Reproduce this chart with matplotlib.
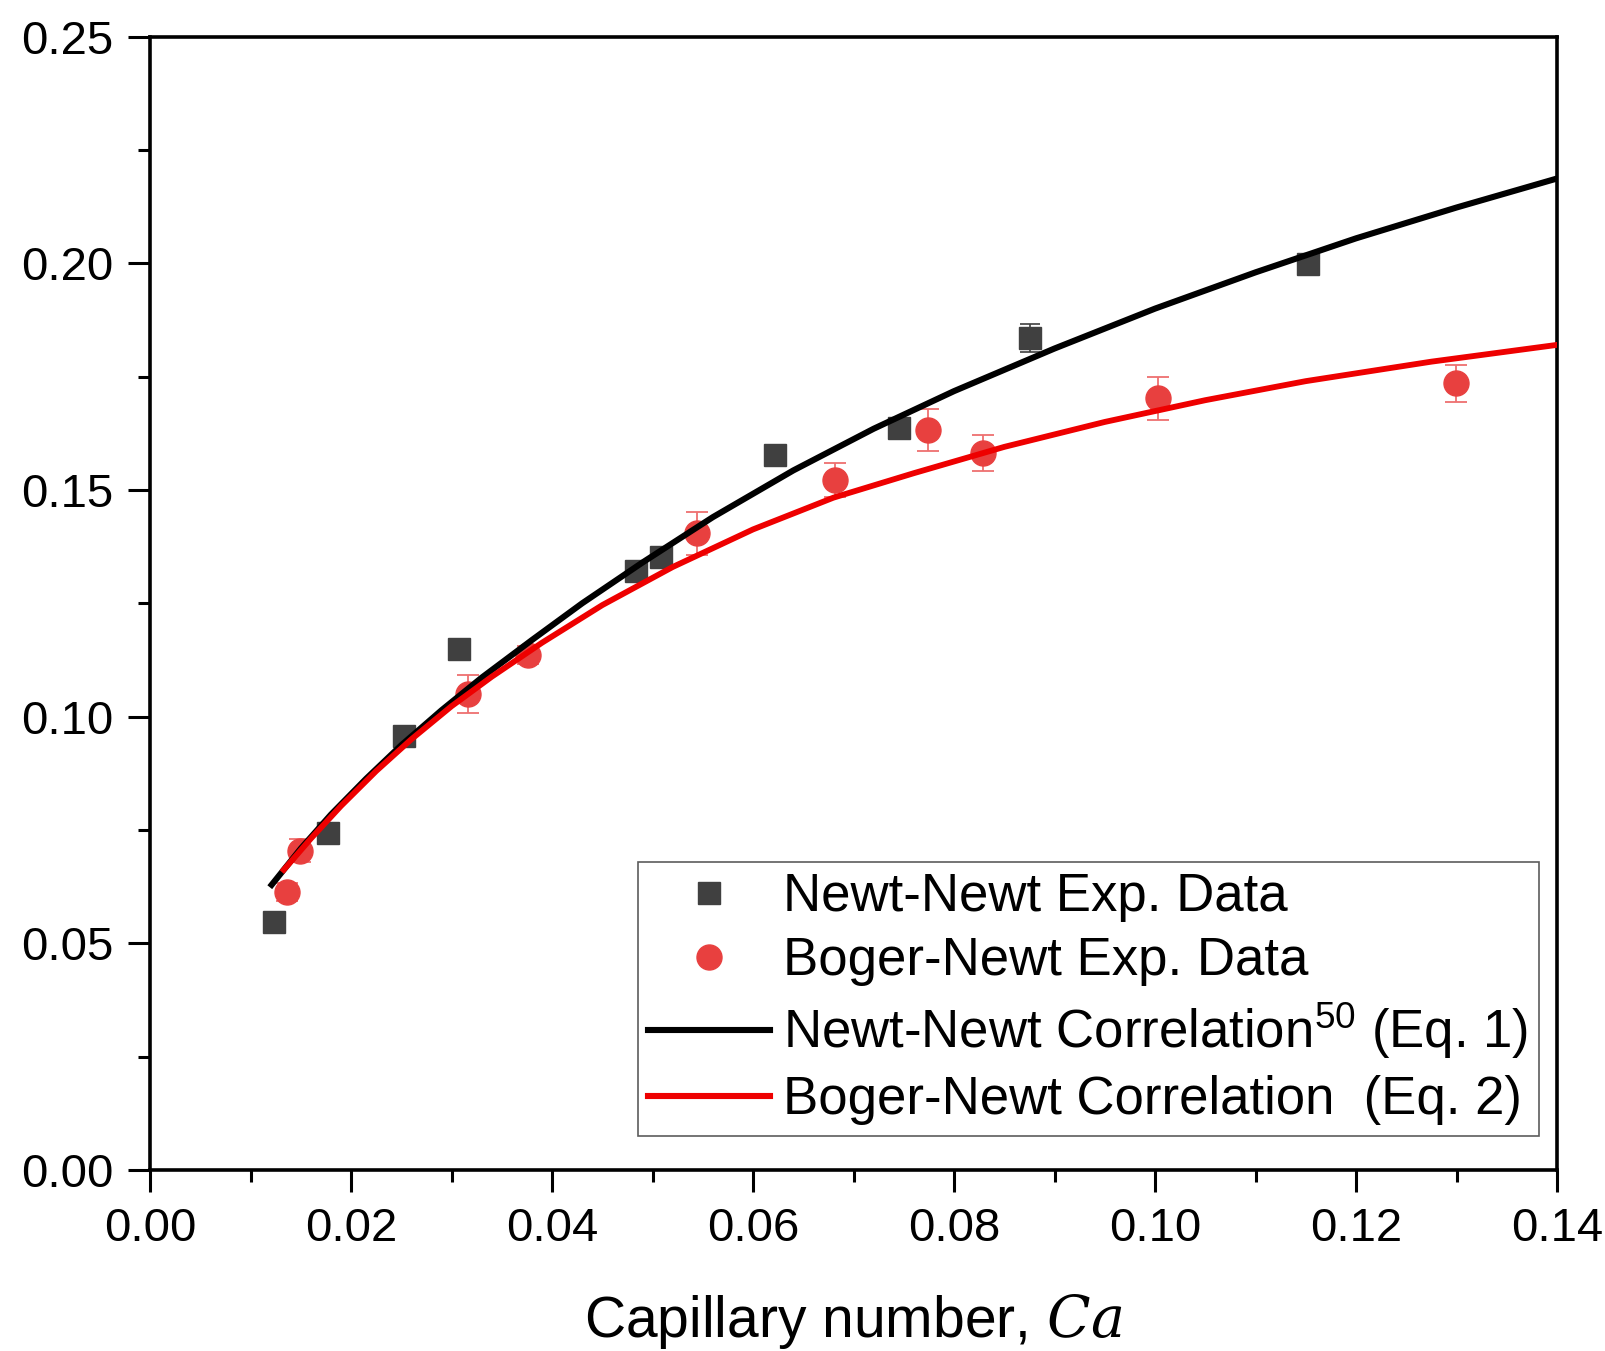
import numpy as np
import matplotlib.pyplot as plt
from matplotlib.lines import Line2D
from matplotlib.ticker import MultipleLocator

plt.rcParams['font.family'] = ['Liberation Sans', 'DejaVu Sans']
plt.rcParams['mathtext.fontset'] = 'custom'
plt.rcParams['mathtext.rm'] = 'Liberation Sans'
plt.rcParams['mathtext.it'] = 'DejaVu Serif:italic'
plt.rcParams['mathtext.bf'] = 'Liberation Sans:bold'

# experimental points
newt_ca = [0.0123, 0.0177, 0.0253, 0.0307, 0.0484, 0.0508, 0.0622, 0.0745, 0.0876, 0.1152]
newt_val = [0.0548, 0.0743, 0.0958, 0.1149, 0.1322, 0.1353, 0.1577, 0.1636, 0.1835, 0.1998]
newt_err = [0.001, 0.001, 0.001, 0.001, 0.002, 0.002, 0.002, 0.001, 0.003, 0.0015]

boger_ca = [0.0136, 0.0149, 0.0316, 0.0376, 0.0544, 0.0682, 0.0774, 0.0829, 0.1003, 0.1299]
boger_val = [0.0614, 0.0704, 0.1050, 0.1135, 0.1404, 0.1522, 0.1632, 0.1581, 0.1702, 0.1735]
boger_err = [0.002, 0.0025, 0.0042, 0.002, 0.0048, 0.0037, 0.0046, 0.0040, 0.0048, 0.0040]

# correlation curves
newt_curve_ca = [0.0121, 0.0150, 0.0180, 0.0215, 0.0250, 0.0290, 0.0330, 0.0380, 0.0430,
                 0.0490, 0.0560, 0.0640, 0.0720, 0.0800, 0.0900, 0.1000, 0.1100, 0.1200,
                 0.1300, 0.1400]
newt_curve_val = [0.0629, 0.0709, 0.0784, 0.0863, 0.0937, 0.1014, 0.1086, 0.1169, 0.1250,
                  0.1340, 0.1440, 0.1543, 0.1635, 0.1718, 0.1812, 0.1900, 0.1980, 0.2055,
                  0.2123, 0.2187]

boger_curve_ca = [0.0133, 0.0160, 0.0190, 0.0225, 0.0260, 0.0300, 0.0340, 0.0390, 0.0450,
                  0.0520, 0.0600, 0.0680, 0.0760, 0.0850, 0.0950, 0.1050, 0.1150, 0.1275,
                  0.1400]
boger_curve_val = [0.0662, 0.0731, 0.0803, 0.0880, 0.0950, 0.1023, 0.1088, 0.1163, 0.1246,
                   0.1330, 0.1413, 0.1483, 0.1537, 0.1595, 0.1650, 0.1698, 0.1740, 0.1783,
                   0.1820]

x_ticks = [0.00, 0.02, 0.04, 0.06, 0.08, 0.10, 0.12, 0.14]
y_ticks = [0.00, 0.05, 0.10, 0.15, 0.20, 0.25]

grey = '#404040'
red_pt = '#e8403f'
red_line = '#ee0000'

fig = plt.figure(figsize=(16.05, 13.51), dpi=100)
ax = fig.add_axes([0.0935, 0.134, 0.8766, 0.8389])

ax.errorbar(newt_ca, newt_val, yerr=newt_err, fmt='s', ms=16.5, color=grey,
            ecolor=grey, elinewidth=1.2, capsize=7.5, capthick=1.2, zorder=2)
ax.errorbar(boger_ca, boger_val, yerr=boger_err, fmt='o', ms=18, mfc=red_pt, mec=red_pt,
            ecolor='#ee7070', elinewidth=1.3, capsize=8, capthick=1.3, zorder=2)

ax.plot(newt_curve_ca, newt_curve_val, color='black', lw=4.4, zorder=3,
        solid_joinstyle='round')
ax.plot(boger_curve_ca, boger_curve_val, color=red_line, lw=4.2, zorder=3,
        solid_joinstyle='round')

ax.set_xlim(0, 0.14)
ax.set_ylim(0, 0.25)
ax.set_xticks(x_ticks)
ax.set_xticklabels(['%.2f' % t for t in x_ticks])
ax.set_yticks(y_ticks)
ax.set_yticklabels(['%.2f' % t for t in y_ticks])
ax.xaxis.set_minor_locator(MultipleLocator(0.01))
ax.yaxis.set_minor_locator(MultipleLocator(0.025))
ax.tick_params(which='major', direction='out', length=15.5, width=2.2, labelsize=34)
ax.tick_params(axis='x', which='major', pad=11)
ax.tick_params(axis='y', which='major', pad=11)
ax.tick_params(which='minor', direction='out', length=8.5, width=2.2)
for s in ax.spines.values():
    s.set_linewidth(2.6)

ax.set_xlabel('Capillary number, $Ca$', fontsize=41, labelpad=30)

handles = [
    Line2D([], [], ls='none', marker='s', ms=16.5, color=grey),
    Line2D([], [], ls='none', marker='o', ms=18, color=red_pt),
    Line2D([], [], color='black', lw=4.4),
    Line2D([], [], color=red_line, lw=4.4),
]
labels = ['Newt-Newt Exp. Data', 'Boger-Newt Exp. Data',
          'Newt-Newt Correlation$^{50}$ (Eq. 1)', 'Boger-Newt Correlation  (Eq. 2)']
leg = ax.legend(handles, labels, loc='lower right', bbox_to_anchor=(0.987, 0.030),
                fontsize=38, frameon=True, fancybox=False, borderpad=0.2,
                handlelength=2.3, handletextpad=0.25, labelspacing=0.27,
                borderaxespad=0)
leg.get_frame().set_edgecolor('#333333')
leg.get_frame().set_linewidth(1.2)

fig.savefig('out.png', dpi=100)
